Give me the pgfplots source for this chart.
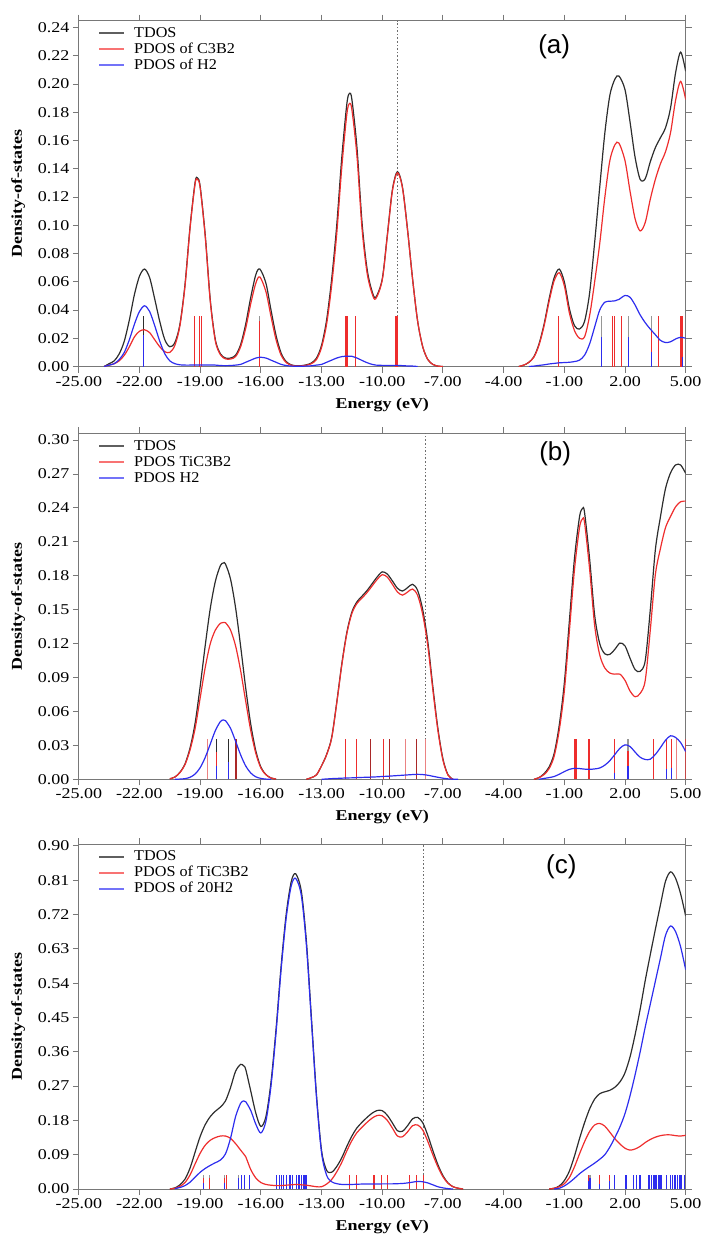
\documentclass[border=0pt]{standalone}
\usepackage{fontspec}
\setmainfont{Liberation Serif}
\setsansfont{Liberation Sans}
\newfontfamily\tickfont{Liberation Serif}[FakeStretch=1.2]
\newfontfamily\legfont{Liberation Serif}[FakeStretch=1.08]
\usepackage{pgfplots}
\usepackage{pgfplotstable}
\pgfplotsset{compat=1.18}

\definecolor{cT}{RGB}{45,45,45}
\definecolor{cR}{RGB}{238,45,45}
\definecolor{cB}{RGB}{45,45,238}
\definecolor{cBr}{RGB}{170,40,40}
\definecolor{cPk}{RGB}{235,130,130}
\definecolor{cG}{RGB}{150,150,150}
\definecolor{cDot}{RGB}{110,110,110}
\definecolor{frm}{RGB}{120,120,120}
\definecolor{lT}{RGB}{95,95,95}
\definecolor{lR}{RGB}{248,115,115}
\definecolor{lB}{RGB}{115,115,248}

\pgfplotstableread{
E T R B
-23.75 0 0 0
-23.5 0.002 0.001 0.001
-23.25 0.004 0.002 0.002
-23.0 0.009 0.004 0.005
-22.75 0.018 0.008 0.010
-22.5 0.033 0.014 0.019
-22.25 0.051 0.021 0.030
-22.0 0.064 0.025 0.039
-21.75 0.069 0.026 0.043
-21.5 0.063 0.024 0.039
-21.25 0.048 0.019 0.029
-21.0 0.032 0.014 0.018
-20.75 0.019 0.0105 0.009
-20.5 0.014 0.010 0.004
-20.25 0.017 0.015 0.002
-20.0 0.030 0.029 0.0012
-19.75 0.058 0.057 0.001
-19.5 0.099 0.098 0.001
-19.25 0.1305 0.1295 0.001
-19.13 0.1335 0.1325 0.001
-19.0 0.1275 0.1265 0.001
-18.75 0.093 0.092 0.001
-18.5 0.047 0.046 0.001
-18.25 0.019 0.018 0.001
-18.0 0.009 0.0083 0.0007
-17.75 0.006 0.0054 0.0006
-17.5 0.006 0.0053 0.0007
-17.25 0.008 0.007 0.001
-17.0 0.0155 0.014 0.0015
-16.75 0.030 0.027 0.003
-16.5 0.049 0.0445 0.0045
-16.25 0.065 0.059 0.006
-16.05 0.069 0.0634 0.0066
-15.75 0.059 0.053 0.006
-15.5 0.040 0.0355 0.0045
-15.25 0.022 0.019 0.003
-15.0 0.0095 0.008 0.0015
-14.75 0.0035 0.0028 0.0007
-14.5 0.0012 0.0009 0.0003
-14.25 0.0005 0.0003 0.0002
-14.0 0.0006 0.0004 0.0002
-13.75 0.0012 0.0009 0.0003
-13.5 0.0025 0.002 0.0005
-13.25 0.006 0.005 0.001
-13.0 0.015 0.0135 0.0015
-12.75 0.033 0.030 0.003
-12.5 0.062 0.0575 0.0045
-12.25 0.100 0.094 0.006
-12.0 0.148 0.141 0.007
-11.75 0.186 0.1787 0.0073
-11.62 0.1935 0.1863 0.0072
-11.5 0.189 0.1818 0.0072
-11.25 0.155 0.149 0.006
-11.0 0.102 0.0977 0.0043
-10.75 0.069 0.0663 0.0027
-10.5 0.053 0.0515 0.0015
-10.32 0.049 0.048 0.001
-10.0 0.062 0.0612 0.0008
-9.75 0.093 0.0922 0.0008
-9.5 0.125 0.1242 0.0008
-9.25 0.138 0.1372 0.0008
-9.0 0.127 0.1264 0.0006
-8.75 0.097 0.0966 0.0004
-8.5 0.062 0.0617 0.0003
-8.25 0.032 0.032 0.0
-8.0 0.014 0.014 nan
-7.75 0.005 0.005 nan
-7.5 0.0015 0.0015 nan
-7.25 0.0003 0.0003 nan
-7.0 0 0 nan
-5.0 nan nan nan
-3.25 0 0 nan
-3.0 0.001 0.001 nan
-2.75 0.003 0.003 0
-2.5 0.007 0.0067 0.0003
-2.25 0.016 0.0152 0.0008
-2.0 0.030 0.0288 0.0012
-1.75 0.048 0.0462 0.0018
-1.5 0.063 0.0608 0.0022
-1.25 0.069 0.0664 0.0026
-1.0 0.060 0.0572 0.0028
-0.75 0.041 0.038 0.003
-0.5 0.029 0.0255 0.0035
-0.25 0.0265 0.020 0.0045
0.0 0.032 0.021 0.008
0.25 0.052 0.036 0.016
0.5 0.088 0.060 0.028
0.75 0.127 0.087 0.040
1.0 0.165 0.1195 0.0455
1.25 0.192 0.1458 0.0462
1.5 0.2035 0.157 0.0465
1.7 0.2057 0.1582 0.0475
2.0 0.196 0.1457 0.0503
2.25 0.173 0.124 0.049
2.5 0.148 0.1045 0.0435
2.75 0.1325 0.096 0.0365
3.0 0.133 0.102 0.031
3.25 0.145 0.1185 0.0265
3.5 0.155 0.1325 0.0225
3.75 0.162 0.1435 0.0185
4.0 0.169 0.152 0.017
4.25 0.183 0.1655 0.0175
4.5 0.208 0.1885 0.0195
4.75 0.2226 0.2019 0.0207
5.0 0.209 0.189 0.020
}\tabA

\pgfplotstableread{
E T R B
-20.5 0.0005 0.0005 nan
-20.25 0.002 0.002 0
-20.0 0.0062 0.006 0.0002
-19.75 0.0136 0.013 0.0006
-19.5 0.0278 0.026 0.0018
-19.25 0.0497 0.045 0.0047
-19.0 0.0823 0.072 0.0103
-18.75 0.1184 0.099 0.0194
-18.5 0.1512 0.120 0.0312
-18.25 0.1751 0.132 0.0431
-18.0 0.1891 0.138 0.0511
-17.85 0.1913 0.1388 0.0525
-17.75 0.1904 0.1385 0.0519
-17.5 0.1771 0.132 0.0451
-17.25 0.1517 0.118 0.0337
-17.0 0.1176 0.096 0.0216
-16.75 0.0808 0.069 0.0118
-16.5 0.0486 0.043 0.0056
-16.25 0.0252 0.023 0.0022
-16.0 0.0108 0.010 0.0008
-15.75 0.0042 0.004 0.0002
-15.5 0.0012 0.0012 0
-15.25 0.0002 0.0002 nan
-14.5 nan nan nan
-13.75 0 0 nan
-13.5 0.0015 0.0015 nan
-13.25 0.004 0.004 nan
-13.0 0.012 0.012 0
-12.75 0.022 0.0217 0.0003
-12.5 0.037 0.0364 0.0006
-12.25 0.068 0.0672 0.0008
-12.0 0.102 0.101 0.001
-11.75 0.130 0.1288 0.0012
-11.5 0.148 0.1467 0.0013
-11.25 0.157 0.1555 0.0015
-11.0 0.162 0.1603 0.0017
-10.75 0.167 0.1652 0.0018
-10.5 0.173 0.171 0.002
-10.25 0.179 0.1768 0.0022
-10.0 0.1835 0.181 0.0025
-9.75 0.1815 0.1788 0.0027
-9.5 0.1755 0.1725 0.003
-9.25 0.169 0.1657 0.0033
-9.0 0.1665 0.1629 0.0036
-8.75 0.1695 0.1656 0.0039
-8.5 0.1725 0.1683 0.0042
-8.25 0.167 0.1626 0.0044
-8.0 0.150 0.1458 0.0042
-7.75 0.122 0.1184 0.0036
-7.5 0.082 0.0793 0.0027
-7.25 0.045 0.0432 0.0018
-7.0 0.018 0.017 0.001
-6.75 0.004 0.0036 0.0004
-6.5 0 0 0.0001
-6.25 nan nan 0
-4.0 nan nan nan
-2.5 0 0 nan
-2.25 0.0015 0.0015 0
-2.0 0.005 0.0042 0.0008
-1.75 0.011 0.0095 0.0015
-1.5 0.023 0.0205 0.0025
-1.25 0.048 0.0435 0.0045
-1.0 0.085 0.078 0.0068
-0.75 0.140 0.131 0.0088
-0.5 0.195 0.185 0.0097
-0.25 0.232 0.2225 0.0095
-0.1 0.2396 0.2304 0.0092
0.0 0.236 0.227 0.009
0.25 0.195 0.186 0.0088
0.5 0.145 0.136 0.0092
0.75 0.120 0.110 0.010
1.0 0.111 0.0985 0.0125
1.25 0.1105 0.094 0.0165
1.5 0.115 0.093 0.022
1.75 0.1205 0.093 0.0275
2.0 0.118 0.0875 0.0305
2.25 0.107 0.078 0.029
2.5 0.097 0.073 0.024
2.75 0.0955 0.076 0.0195
3.0 0.105 0.0875 0.0175
3.25 0.150 0.132 0.0178
3.5 0.203 0.181 0.022
3.75 0.232 0.204 0.028
4.0 0.257 0.2225 0.0345
4.25 0.271 0.2325 0.0385
4.5 0.278 0.241 0.037
4.75 0.278 0.2455 0.0325
5.0 0.2705 0.246 0.0245
}\tabB

\pgfplotstableread{
E T R B
-20.5 0 0 nan
-20.25 0.003 0.002 0.001
-20.0 0.011 0.007 0.004
-19.75 0.026 0.017 0.009
-19.5 0.055 0.037 0.018
-19.25 0.097 0.066 0.031
-19.0 0.138 0.094 0.044
-18.75 0.169 0.115 0.054
-18.5 0.190 0.128 0.062
-18.25 0.204 0.135 0.069
-18.0 0.215 0.139 0.076
-17.75 0.231 0.139 0.092
-17.5 0.266 0.133 0.133
-17.25 0.309 0.119 0.190
-17.0 0.327 0.102 0.225
-16.85 0.323 0.092 0.231
-16.75 0.314 0.085 0.229
-16.5 0.257 0.051 0.206
-16.25 0.199 0.029 0.170
-16.0 0.164 0.017 0.147
-15.75 0.190 0.012 0.178
-15.5 0.280 0.010 0.270
-15.25 0.419 0.009 0.410
-15.0 0.584 0.009 0.575
-14.75 0.720 0.010 0.710
-14.5 0.806 0.011 0.795
-14.28 0.827 0.012 0.815
-14.0 0.781 0.011 0.770
-13.75 0.650 0.010 0.640
-13.5 0.448 0.008 0.440
-13.25 0.246 0.006 0.240
-13.0 0.101 0.006 0.095
-12.75 0.049 0.013 0.036
-12.5 0.044 0.025 0.019
-12.25 0.059 0.045 0.014
-12.0 0.082 0.070 0.012
-11.75 0.112 0.100 0.012
-11.5 0.139 0.127 0.012
-11.25 0.1605 0.148 0.0125
-11.0 0.175 0.162 0.013
-10.75 0.188 0.175 0.013
-10.5 0.199 0.186 0.013
-10.25 0.206 0.193 0.013
-10.0 0.2055 0.192 0.0135
-9.75 0.1935 0.180 0.0135
-9.5 0.1735 0.160 0.0135
-9.25 0.153 0.139 0.014
-9.0 0.1515 0.137 0.0145
-8.75 0.166 0.150 0.016
-8.5 0.184 0.166 0.018
-8.25 0.188 0.168 0.020
-8.0 0.174 0.155 0.019
-7.75 0.141 0.125 0.016
-7.5 0.101 0.090 0.011
-7.25 0.064 0.058 0.006
-7.0 0.035 0.032 0.003
-6.75 0.016 0.015 0.001
-6.5 0.006 0.006 0.0
-6.25 0.002 0.002 nan
-6.0 0 0 nan
-4.0 nan nan nan
-1.75 0 0 nan
-1.5 0.002 0.002 0.000
-1.25 0.008 0.006 0.002
-1.0 0.022 0.014 0.008
-0.75 0.047 0.030 0.017
-0.5 0.086 0.058 0.028
-0.25 0.132 0.092 0.040
0.0 0.174 0.124 0.050
0.25 0.210 0.151 0.059
0.5 0.236 0.168 0.068
0.75 0.250 0.172 0.078
1.0 0.255 0.165 0.090
1.25 0.259 0.149 0.110
1.5 0.267 0.132 0.135
1.75 0.281 0.118 0.163
2.0 0.305 0.107 0.198
2.25 0.347 0.102 0.245
2.5 0.405 0.105 0.300
2.75 0.472 0.112 0.360
3.0 0.547 0.122 0.425
3.25 0.615 0.130 0.485
3.5 0.681 0.136 0.545
3.75 0.745 0.140 0.605
4.0 0.807 0.142 0.665
4.25 0.832 0.142 0.690
4.5 0.815 0.140 0.675
4.75 0.774 0.139 0.635
5.0 0.716 0.141 0.575
}\tabC

\pgfplotsset{dosaxis/.style={
  scale only axis, width=606.9pt,
  xmin=-25, xmax=5, ymin=0,
  xtick={-25,-22,-19,-16,-13,-10,-7,-4,-1,2,5},
  xticklabels={-25.00,-22.00,-19.00,-16.00,-13.00,-10.00,-7.00,-4.00,-1.00,2.00,5.00},
  tick align=outside, major tick length=6pt,
  axis line style={draw=frm, line width=1pt},
  tick style={draw=frm, line width=1pt},
  tick label style={font=\tickfont\fontsize{15}{18}\selectfont},
  xlabel={Energy (eV)}, ylabel={Density-of-states},
  label style={font=\tickfont\bfseries\fontsize{15}{18}\selectfont},
  xlabel style={at={(axis description cs:0.5,0)}, yshift=-38pt, anchor=center},
  ylabel style={at={(axis description cs:-0.1,0.5)}, anchor=center},
  legend style={at={(axis description cs:0.0316,0.985)}, anchor=north west,
    draw=none, fill=none, inner sep=0pt, column sep=8pt,
    font=\legfont\fontsize{15}{18}\selectfont,
    nodes={inner sep=1pt, text height=10.5pt, text depth=3.5pt}},
  legend cell align=left,
  legend image code/.code={\draw[##1] (0pt,0.5pt) -- (25pt,0.5pt);},
  unbounded coords=jump,
}}

\begin{document}
\begin{tikzpicture}
\path[use as bounding box] (0,0) rectangle (711pt,-1243pt);

% ---------------- (a)
\begin{axis}[dosaxis, at={(78.8pt,-366.5pt)}, anchor=south west, height=346pt, ymax=0.245,
  ytick={0,0.02,0.04,0.06,0.08,0.10,0.12,0.14,0.16,0.18,0.20,0.22,0.24},
  yticklabels={0.00,0.02,0.04,0.06,0.08,0.10,0.12,0.14,0.16,0.18,0.20,0.22,0.24}]
\addlegendimage{draw=lT, line width=2pt}
\addlegendentry{TDOS}
\addlegendimage{draw=lR, line width=2pt}
\addlegendentry{PDOS of C3B2}
\addlegendimage{draw=lB, line width=2pt}
\addlegendentry{PDOS of H2}
\addplot[forget plot, cDot, line width=1.3pt, dash pattern=on 1.6pt off 2pt] coordinates {(-9.25,0) (-9.25,0.245)};
\addplot[forget plot, ycomb, draw=cG, line width=1.1pt] coordinates {(-16.05,0.036) (0.85,0.036) (2.17,0.036) (3.33,0.036)};
\addplot[forget plot, ycomb, draw=cT, line width=1.1pt] coordinates {(-21.78,0.036)};
\addplot[forget plot, ycomb, draw=cR, line width=1.1pt] coordinates {(-19.27,0.036) (-19.03,0.036) (-18.95,0.036) (-16.05,0.032) (-11.82,0.036) (-11.76,0.036) (-11.70,0.036) (-11.32,0.036) (-9.36,0.036) (-9.31,0.036) (-9.26,0.036) (-1.28,0.036) (1.40,0.036) (1.47,0.036) (1.84,0.036) (3.33,0.026) (3.65,0.036) (4.74,0.036) (4.78,0.036) (4.82,0.036) (4.86,0.036)};
\addplot[forget plot, ycomb, draw=cB, line width=1.1pt] coordinates {(-21.78,0.022) (0.85,0.021) (2.17,0.021) (3.33,0.010) (4.82,0.0065)};
\addplot[forget plot, draw=cT, line width=1.2pt, smooth] table[x=E, y=T] {\tabA};
\addplot[forget plot, draw=cR, line width=1.2pt, smooth] table[x=E, y=R] {\tabA};
\addplot[forget plot, draw=cB, line width=1.2pt, smooth] table[x=E, y=B] {\tabA};
\node[font=\sffamily\fontsize{26}{30}\selectfont] at (axis cs:-1.5,0.2265) {(a)};
\end{axis}

% ---------------- (b)
\begin{axis}[dosaxis, at={(78.8pt,-779.3pt)}, anchor=south west, height=346pt, ymax=0.306,
  ytick={0,0.03,0.06,0.09,0.12,0.15,0.18,0.21,0.24,0.27,0.30},
  yticklabels={0.00,0.03,0.06,0.09,0.12,0.15,0.18,0.21,0.24,0.27,0.30}]
\addlegendimage{draw=lT, line width=2pt}
\addlegendentry{TDOS}
\addlegendimage{draw=lR, line width=2pt}
\addlegendentry{PDOS TiC3B2}
\addlegendimage{draw=lB, line width=2pt}
\addlegendentry{PDOS H2}
\addplot[forget plot, cDot, line width=1.3pt, dash pattern=on 1.6pt off 2pt] coordinates {(-7.85,0) (-7.85,0.306)};
\addplot[forget plot, ycomb, draw=cG, line width=1.1pt] coordinates {(2.15,0.036)};
\addplot[forget plot, ycomb, draw=cT, line width=1.1pt] coordinates {(-18.18,0.036) (-17.61,0.036)};
\addplot[forget plot, ycomb, draw=cPk, line width=1.1pt] coordinates {(-18.65,0.036) (-8.83,0.036) (-7.84,0.036) (4.56,0.036)};
\addplot[forget plot, ycomb, draw=cBr, line width=1.1pt] coordinates {(-17.23,0.036) (-10.57,0.036) (-9.65,0.036) (-8.30,0.036)};
\addplot[forget plot, ycomb, draw=cR, line width=1.1pt] coordinates {(-18.18,0.024) (-11.81,0.036) (-11.26,0.036) (-9.95,0.036) (-0.47,0.036) (-0.42,0.036) (0.20,0.036) (0.25,0.036) (1.48,0.036) (2.15,0.025) (3.43,0.036) (4.03,0.036) (4.30,0.036) (4.97,0.036)};
\addplot[forget plot, ycomb, draw=cB, line width=1.1pt] coordinates {(-18.18,0.012) (-17.61,0.015) (1.48,0.006) (2.15,0.012) (4.03,0.009) (4.30,0.010)};
\addplot[forget plot, draw=cT, line width=1.2pt, smooth] table[x=E, y=T] {\tabB};
\addplot[forget plot, draw=cR, line width=1.2pt, smooth] table[x=E, y=R] {\tabB};
\addplot[forget plot, draw=cB, line width=1.2pt, smooth] table[x=E, y=B] {\tabB};
\node[font=\sffamily\fontsize{26}{30}\selectfont] at (axis cs:-1.45,0.288) {(b)};
\end{axis}

% ---------------- (c)
\begin{axis}[dosaxis, at={(78.8pt,-1189pt)}, anchor=south west, height=345pt, ymax=0.905,
  ytick={0,0.09,0.18,0.27,0.36,0.45,0.54,0.63,0.72,0.81,0.90},
  yticklabels={0.00,0.09,0.18,0.27,0.36,0.45,0.54,0.63,0.72,0.81,0.90}]
\addlegendimage{draw=lT, line width=2pt}
\addlegendentry{TDOS}
\addlegendimage{draw=lR, line width=2pt}
\addlegendentry{PDOS of TiC3B2}
\addlegendimage{draw=lB, line width=2pt}
\addlegendentry{PDOS of 20H2}
\addplot[forget plot, cDot, line width=1.3pt, dash pattern=on 1.6pt off 2pt] coordinates {(-7.95,0) (-7.95,0.905)};
\addplot[forget plot, ycomb, draw=cG, line width=1.1pt] coordinates {(-18.85,0.037) (-18.55,0.037) (-17.82,0.037) (-17.11,0.037) (0.27,0.037)};
\addplot[forget plot, ycomb, draw=cR, line width=1.1pt] coordinates {(-18.85,0.028) (-18.55,0.030) (-17.82,0.030) (-17.72,0.037) (-11.6,0.037) (-11.26,0.037) (-10.41,0.037) (-10.03,0.037) (-9.75,0.037) (-8.66,0.037) (-8.30,0.037) (-7.97,0.037) (0.19,0.037) (0.76,0.037) (1.22,0.037)};
\addplot[forget plot, ycomb, draw=cB, line width=1.1pt] coordinates {(-18.85,0.015) (-17.82,0.015) (-17.11,0.030) (-16.95,0.037) (-16.82,0.037) (-16.57,0.037)
 (-15.22,0.037) (-15.09,0.037) (-14.97,0.037) (-14.86,0.037) (-14.72,0.037) (-14.59,0.037) (-14.53,0.037) (-14.43,0.037) (-14.23,0.037) (-14.15,0.037) (-14.07,0.037) (-13.98,0.037) (-13.90,0.037) (-13.82,0.037) (-13.73,0.037)
 (0.19,0.020) (0.27,0.030) (0.76,0.012) (1.22,0.020) (1.50,0.037) (2.05,0.037) (2.41,0.037) (2.58,0.037) (2.74,0.037) (3.15,0.037) (3.23,0.037) (3.32,0.037) (3.40,0.037) (3.48,0.037) (3.57,0.037) (3.65,0.037) (3.73,0.037) (3.81,0.037) (4.03,0.037) (4.26,0.037) (4.36,0.037) (4.47,0.037) (4.59,0.037) (4.72,0.037) (4.80,0.037) (4.92,0.037)};
\addplot[forget plot, draw=cT, line width=1.2pt, smooth] table[x=E, y=T] {\tabC};
\addplot[forget plot, draw=cR, line width=1.2pt, smooth] table[x=E, y=R] {\tabC};
\addplot[forget plot, draw=cB, line width=1.2pt, smooth] table[x=E, y=B] {\tabC};
\node[font=\sffamily\fontsize{26}{30}\selectfont] at (axis cs:-1.15,0.846) {(c)};
\end{axis}
\end{tikzpicture}
\end{document}
